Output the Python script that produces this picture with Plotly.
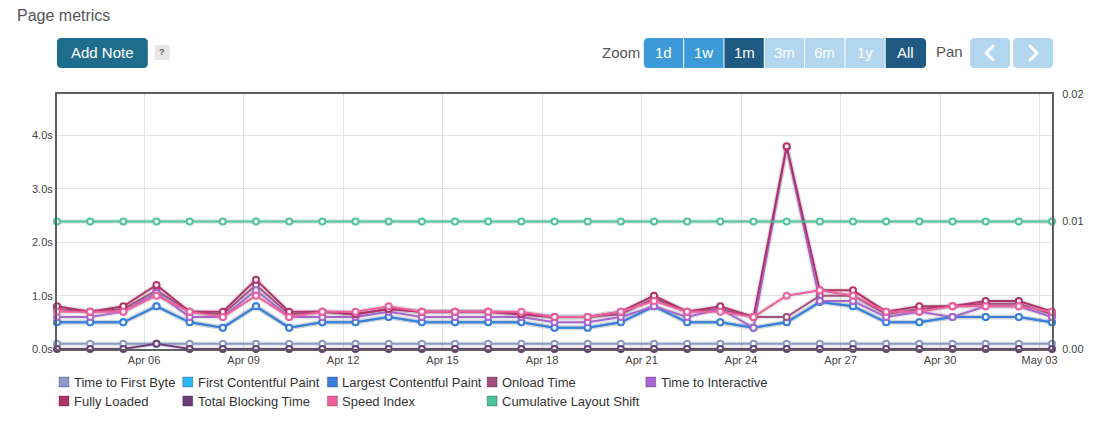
import pandas as pd
import plotly.graph_objects as go

# ---------------- data ----------------
dates = pd.date_range("2024-04-03 09:00", periods=31, freq="D")

series_names = ["Time to First Byte", "First Contentful Paint", "Largest Contentful Paint",
                "Onload Time", "Time to Interactive", "Fully Loaded", "Total Blocking Time",
                "Speed Index", "Cumulative Layout Shift"]
series_colors = ["#8c98c8", "#2cb5ef", "#3b7ddd", "#a3517f", "#a865d0",
                 "#b3306a", "#6a3d7a", "#f0609e", "#4bc498"]

ttfb = [0.1] * 31
fcp = [0.5, 0.5, 0.5, 0.8, 0.5, 0.4, 0.8, 0.4, 0.5, 0.5, 0.6, 0.5, 0.5, 0.5, 0.5, 0.4,
       0.4, 0.5, 0.8, 0.5, 0.5, 0.4, 0.5, 0.88, 0.8, 0.5, 0.5, 0.6, 0.6, 0.6, 0.5]
lcp = [0.5, 0.5, 0.5, 0.8, 0.5, 0.4, 0.8, 0.4, 0.5, 0.5, 0.6, 0.5, 0.5, 0.5, 0.5, 0.4,
       0.4, 0.5, 0.8, 0.5, 0.5, 0.4, 0.5, 0.88, 0.8, 0.5, 0.5, 0.6, 0.6, 0.6, 0.5]
onload = [0.75, 0.7, 0.75, 1.1, 0.7, 0.65, 1.2, 0.65, 0.7, 0.65, 0.75, 0.7, 0.7, 0.7, 0.65, 0.6,
          0.6, 0.65, 0.95, 0.7, 0.75, 0.6, 0.6, 1.0, 1.0, 0.65, 0.75, 0.8, 0.85, 0.85, 0.65]
tti = [0.6, 0.6, 0.7, 1.05, 0.6, 0.6, 1.1, 0.6, 0.6, 0.6, 0.7, 0.6, 0.6, 0.6, 0.6, 0.5,
       0.5, 0.6, 0.8, 0.6, 0.75, 0.4, 3.78, 0.9, 0.9, 0.6, 0.7, 0.6, 0.8, 0.8, 0.6]
fully_loaded = [0.8, 0.7, 0.8, 1.2, 0.7, 0.7, 1.3, 0.7, 0.7, 0.65, 0.75, 0.7, 0.7, 0.7, 0.65, 0.6,
                0.6, 0.7, 1.0, 0.7, 0.8, 0.6, 3.8, 1.1, 1.1, 0.7, 0.8, 0.8, 0.9, 0.9, 0.7]
tbt = [0.0, 0.0, 0.0, 0.1, 0.0, 0.0, 0.0, 0.0, 0.0, 0.0, 0.0, 0.0, 0.0, 0.0, 0.0, 0.0,
       0.0, 0.0, 0.0, 0.0, 0.0, 0.0, 0.0, 0.0, 0.0, 0.0, 0.0, 0.0, 0.0, 0.0, 0.0]
speed_index = [0.7, 0.7, 0.7, 1.0, 0.7, 0.6, 1.0, 0.6, 0.7, 0.7, 0.8, 0.7, 0.7, 0.7, 0.7, 0.6,
               0.6, 0.7, 0.9, 0.7, 0.7, 0.6, 1.0, 1.1, 1.0, 0.7, 0.7, 0.8, 0.8, 0.8, 0.7]
cls = [0.01] * 31

series_values = [ttfb, fcp, lcp, onload, tti, fully_loaded, tbt, speed_index, cls]

zoom_labels = ["1d", "1w", "1m", "3m", "6m", "1y", "All"]
left_ticks = [0, 1, 2, 3, 4]
left_tick_labels = ["0.0s", "1.0s", "2.0s", "3.0s", "4.0s"]
right_ticks = [0, 0.01, 0.02]
right_tick_labels = ["0.00", "0.01", "0.02"]

# ---------------- layout geometry ----------------
W, H = 1096, 422
L, R, T, B = 57, 1054, 94, 349


def px(x):
    return (x - L) / (R - L)


def py(y):
    return (B - y) / (B - T)


fig = go.Figure()

# soft line shadows (same data, drawn underneath)
for name, vals in zip(series_names, series_values):
    fig.add_trace(go.Scatter(
        x=dates, y=vals, mode="lines", hoverinfo="skip",
        yaxis="y2" if name == "Cumulative Layout Shift" else "y",
        line=dict(color="rgba(0,0,0,0.09)", width=5),
        cliponaxis=False, showlegend=False,
    ))

for name, color, vals in zip(series_names, series_colors, series_values):
    fig.add_trace(go.Scatter(
        x=dates, y=vals, name=name, mode="lines+markers",
        yaxis="y2" if name == "Cumulative Layout Shift" else "y",
        line=dict(color=color, width=2),
        marker=dict(size=6, color="white", line=dict(color=color, width=2)),
        cliponaxis=False, showlegend=False,
    ))

shapes = []
annotations = []

FONT = "Liberation Sans, Arial, sans-serif"


def rounded_rect(x0, y0, x1, y1, r, color, left=True, right=True):
    import math
    pts = []

    def arc(cx, cy, a0, a1):
        out = []
        for k in range(7):
            a = math.radians(a0 + (a1 - a0) * k / 6)
            out.append((cx + r * math.cos(a), cy - r * math.sin(a)))
        return out
    if left:
        pts += arc(x0 + r, y0 + r, 180, 90)
    else:
        pts.append((x0, y0))
    if right:
        pts += arc(x1 - r, y0 + r, 90, 0)
        pts += arc(x1 - r, y1 - r, 0, -90)
    else:
        pts += [(x1, y0), (x1, y1)]
    if left:
        pts += arc(x0 + r, y1 - r, -90, -180)
    else:
        pts.append((x0, y1))
    path = "M " + " L ".join(f"{px(a):.5f},{py(b):.5f}" for a, b in pts) + " Z"
    return dict(type="path", xref="paper", yref="paper", path=path,
                fillcolor=color, line=dict(width=0), layer="above")


# title
annotations.append(dict(text="Page metrics", x=px(15), y=py(15), xref="paper", yref="paper",
                        xanchor="left", yanchor="middle", showarrow=False,
                        font=dict(family=FONT, size=16, color="#555555")))

# Add note button
shapes.append(rounded_rect(57, 38, 148, 68, 4, "#1f6d8c"))
annotations.append(dict(text="Add Note", x=px(102.5), y=py(53), xref="paper", yref="paper",
                        xanchor="center", yanchor="middle", showarrow=False,
                        font=dict(family=FONT, size=15, color="white")))
shapes.append(rounded_rect(155, 45, 170, 60, 2, "#e6e6e6"))
annotations.append(dict(text="<b>?</b>", x=px(162.5), y=py(52.5), xref="paper", yref="paper",
                        xanchor="center", yanchor="middle", showarrow=False,
                        font=dict(family=FONT, size=9, color="#555555")))

# zoom buttons
annotations.append(dict(text="Zoom", x=px(643), y=py(53), xref="paper", yref="paper",
                        xanchor="right", yanchor="middle", showarrow=False,
                        font=dict(family=FONT, size=15, color="#555555")))
btn_colors = ["#3d9ad9", "#3d9ad9", "#1f5a82", "#b3d6f0", "#b3d6f0", "#b3d6f0", "#1f5a82"]
bx0, bw = 645, 40.4
for i, (lab, col) in enumerate(zip(zoom_labels, btn_colors)):
    x0 = bx0 + i * bw
    x1 = x0 + bw - (1 if i < len(zoom_labels) - 1 else 0)
    shapes.append(rounded_rect(x0, 38, x1, 68, 4, col,
                               left=(i == 0), right=(i == len(zoom_labels) - 1)))
    annotations.append(dict(text=lab, x=px((x0 + x1) / 2), y=py(53), xref="paper", yref="paper",
                            xanchor="center", yanchor="middle", showarrow=False,
                            font=dict(family=FONT, size=15, color="white")))

# pan
annotations.append(dict(text="Pan", x=px(967), y=py(52), xref="paper", yref="paper",
                        xanchor="right", yanchor="middle", showarrow=False,
                        font=dict(family=FONT, size=15, color="#555555")))
for (x0, x1, d) in [(972, 1012, -1), (1015, 1055, 1)]:
    shapes.append(rounded_rect(x0, 38, x1, 68, 4, "#b3d6f0"))
    cx, cy = (x0 + x1) / 2, 53
    path = (f"M {px(cx - 4 * d):.5f},{py(cy - 8):.5f} L {px(cx + 4 * d):.5f},{py(cy):.5f} "
            f"L {px(cx - 4 * d):.5f},{py(cy + 8):.5f}")
    shapes.append(dict(type="path", xref="paper", yref="paper", path=path,
                       line=dict(color="white", width=3), layer="above"))

# legend (manual, Highcharts-style columns)
legend_pos = {
    "Time to First Byte": (59, 382), "First Contentful Paint": (183, 382),
    "Largest Contentful Paint": (328, 382), "Onload Time": (488, 382),
    "Time to Interactive": (647, 382), "Fully Loaded": (59, 401),
    "Total Blocking Time": (183, 401), "Speed Index": (328, 401),
    "Cumulative Layout Shift": (488, 401),
}
for name, color in zip(series_names, series_colors):
    lx, ly = legend_pos[name]
    shapes.append(dict(type="rect", xref="paper", yref="paper",
                       x0=px(lx), x1=px(lx + 10), y0=py(ly - 5), y1=py(ly + 5),
                       fillcolor=color, line=dict(color="rgba(0,0,0,0.25)", width=1)))
    annotations.append(dict(text=name, x=px(lx + 13), y=py(ly), xref="paper", yref="paper",
                            xanchor="left", yanchor="middle", showarrow=False,
                            font=dict(family=FONT, size=13, color="#333333")))

fig.update_layout(
    width=W, height=H,
    margin=dict(l=L, r=W - R, t=T, b=H - B, pad=0),
    paper_bgcolor="white", plot_bgcolor="white",
    showlegend=False, hovermode="closest",
    shapes=shapes, annotations=annotations,
    xaxis=dict(
        type="date", range=[dates[0], dates[-1]],
        tick0="2024-04-06", dtick=3 * 86400000, tickformat="%b %d",
        showgrid=True, gridcolor="#e3e3e3", gridwidth=1,
        showline=True, linecolor="#5f5f5f", linewidth=2, mirror=True,
        ticks="", zeroline=False,
        tickfont=dict(family=FONT, size=11, color="#444444"),
    ),
    yaxis=dict(
        range=[0, 4.78], tickvals=left_ticks, ticktext=left_tick_labels,
        showgrid=True, gridcolor="#e3e3e3", gridwidth=1,
        showline=True, linecolor="#5f5f5f", linewidth=2, mirror=True,
        ticks="", zeroline=False,
        tickfont=dict(family=FONT, size=11, color="#444444"),
    ),
    yaxis2=dict(
        range=[0, 0.02], tickvals=right_ticks, ticktext=right_tick_labels,
        overlaying="y", side="right", showgrid=False, zeroline=False,
        showline=True, linecolor="#5f5f5f", linewidth=2, ticks="",
        ticklabelstandoff=6,
        tickfont=dict(family=FONT, size=11, color="#444444"),
    ),
)

fig.write_html("out.html")
